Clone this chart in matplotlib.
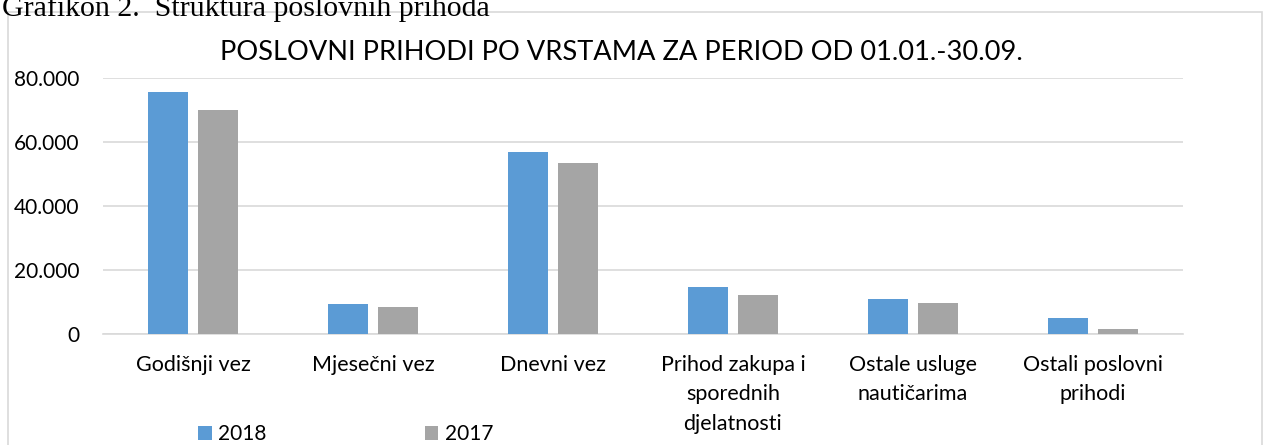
import matplotlib.pyplot as plt
import matplotlib.patches as patches
from matplotlib.ticker import FuncFormatter
import numpy as np

categories = ['Godišnji vez', 'Mjesečni vez', 'Dnevni vez',
              'Prihod zakupa i\nsporednih\ndjelatnosti',
              'Ostale usluge\nnautičarima', 'Ostali poslovni\nprihodi']
vals_2018 = [75600, 9500, 56750, 14600, 11000, 5000]
vals_2017 = [69900, 8300, 53400, 12300, 9600, 1600]
series_names = ['2018', '2017']
colors = ['#5b9bd5', '#a5a5a5']

plt.rcParams['font.family'] = ['Lato', 'DejaVu Sans']

fig = plt.figure(figsize=(12.65, 4.45), dpi=100)

# outer chart frame
frame = patches.Rectangle((8 / 1265, -0.1), 1254 / 1265, 1.1 - 12 / 445,
                          transform=fig.transFigure, fill=False,
                          edgecolor='#d9d9d9', linewidth=1.2)
fig.patches.append(frame)

# caption above the frame (cut off at the top, like in the source)
fig.text(2 / 1265, 1 - 16 / 445, 'Grafikon 2.  Struktura poslovnih prihoda',
         family='Liberation Serif', fontsize=21.5, color='#000000',
         ha='left', va='baseline')

ax = fig.add_axes([103 / 1265, 1 - 334 / 445, 1080 / 1265, 256 / 445])

x = np.arange(len(categories))
w = 0.222
ax.bar(x - w / 2 - 0.03, vals_2018, width=w, color=colors[0], label=series_names[0], zorder=3)
ax.bar(x + w / 2 + 0.03, vals_2017, width=w, color=colors[1], label=series_names[1], zorder=3)

ax.set_xlim(-0.5, len(categories) - 0.5)
ax.set_ylim(0, 80000)
ax.set_yticks([0, 20000, 40000, 60000, 80000])
ax.yaxis.set_major_formatter(FuncFormatter(lambda v, p: f'{int(v):,}'.replace(',', '.')))
ax.set_xticks(x)
ax.set_xticklabels(categories, fontsize=15.5, linespacing=1.6, va='top')
ax.tick_params(axis='y', labelsize=15, length=0, pad=17)
ax.tick_params(axis='x', length=0, pad=15)

ax.grid(axis='y', color='#d9d9d9', linewidth=1.2, zorder=0)
for s in ['top', 'right', 'left']:
    ax.spines[s].set_visible(False)
ax.spines['bottom'].set_color('#d9d9d9')
ax.spines['bottom'].set_linewidth(1.2)

fig.text(621 / 1265, 1 - 53 / 445, 'POSLOVNI PRIHODI PO VRSTAMA ZA PERIOD OD 01.01.-30.09.',
         fontsize=19.6, ha='center', va='center', color='#000000')

leg = ax.legend(loc='center left', bbox_to_anchor=(188 / 1265, 1 - 434 / 445),
                bbox_transform=fig.transFigure, ncol=2, frameon=False,
                fontsize=15, handlelength=0.65, handleheight=0.65,
                handletextpad=0.3, columnspacing=7.6, borderpad=0)

fig.savefig('out.png', dpi=100)
